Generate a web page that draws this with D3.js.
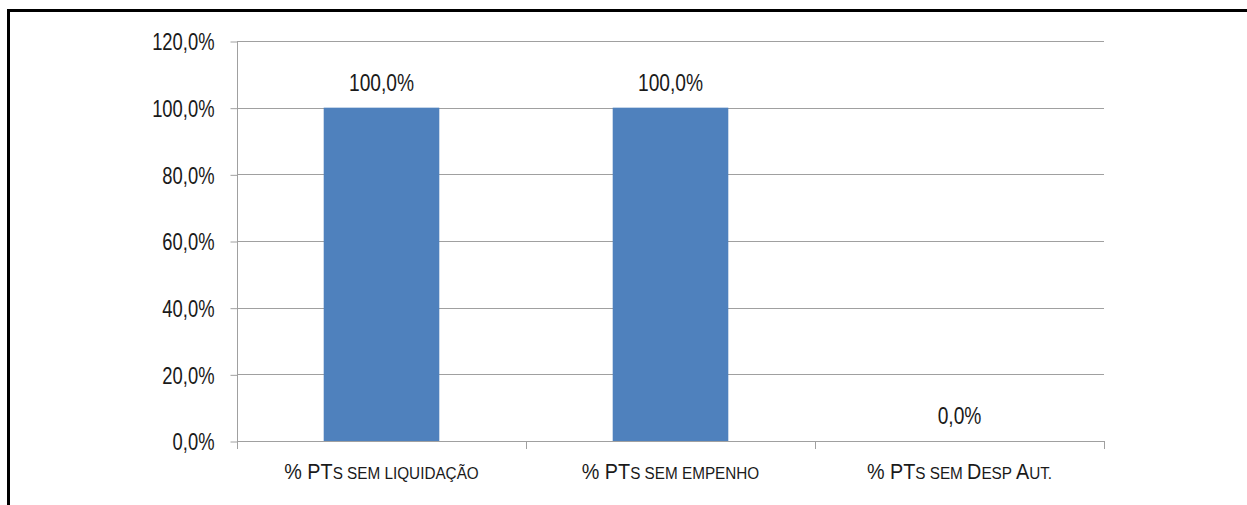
<!DOCTYPE html>
<html lang="pt">
<head>
    <meta charset="UTF-8">
    <title>PTs</title>
    <script src="https://cdn.jsdelivr.net/npm/d3@7/dist/d3.min.js"></script>
    <style>
        body { margin: 0; background: #fff; }
        text { font-family: "Liberation Sans", Arial, sans-serif; fill: #1a1a1a; }
    </style>
</head>
<body>
<div id="chart"></div>
<script>
    // category labels split into [text, isSmallCaps] pieces
    const categories = ["liq", "emp", "desp"];
    const categoryLabels = [
        [["% PT", false], ["S SEM LIQUIDAÇÃO", true]],
        [["% PT", false], ["S SEM EMPENHO", true]],
        [["% PT", false], ["S SEM ", true], ["D", false], ["ESP ", true], ["A", false], ["UT.", true]]
    ];
    const values = [1.0, 1.0, 0.0];
    const yTicks = [0, 0.2, 0.4, 0.6, 0.8, 1.0, 1.2];

    const width = 1247, height = 505;
    const NARROW = 0.8;   // no narrow font installed, squeeze glyphs instead

    const svg = d3.select("#chart").append("svg")
        .attr("width", width)
        .attr("height", height);

    // squeeze a text horizontally around its anchor point
    function squeeze(sel, fx, fy, k) {
        sel.attr("x", 0).attr("y", 0)
            .attr("transform", function (d, i) {
                return "translate(" + fx(d, i) + "," + fy(d, i) + ") scale(" + k + ",1)";
            });
    }

    // frame around the page
    svg.append("path")
        .attr("d", "M8.5,505 V10.5 H1247")
        .attr("fill", "none")
        .attr("stroke", "#000")
        .attr("stroke-width", 3);

    const plotLeft = 237, plotRight = 1104, plotTop = 41, plotBottom = 441;

    const y = d3.scaleLinear().domain([0, 1.2]).range([plotBottom, plotTop]);
    const x = d3.scaleBand().domain(categories).range([plotLeft, plotRight])
        .paddingInner(0.6).paddingOuter(0.3);
    const xCell = d3.scaleBand().domain(categories).range([plotLeft, plotRight]);

    const fmt = v => d3.format(".1f")(v * 100).replace(".", ",") + "%";

    // gridlines
    svg.append("g").selectAll("line").data(yTicks.slice(1)).enter()
        .append("line")
        .attr("x1", plotLeft).attr("x2", plotRight)
        .attr("y1", d => Math.round(y(d)) + 0.5)
        .attr("y2", d => Math.round(y(d)) + 0.5)
        .attr("stroke", "#a0a0a0");

    // y axis
    const yAxis = svg.append("g")
        .attr("transform", "translate(" + (plotLeft + 0.5) + ",0.5)")
        .call(d3.axisLeft(y).tickValues(yTicks).tickFormat(fmt).tickSize(7));
    yAxis.attr("font-family", null).attr("font-size", null);
    yAxis.select(".domain").attr("stroke", "#a0a0a0").attr("d", "M0," + plotTop + "V" + plotBottom);
    yAxis.selectAll(".tick line").attr("stroke", "#a0a0a0");
    yAxis.selectAll(".tick text")
        .attr("font-size", 23).attr("fill", "#1a1a1a").attr("dy", "0.36em")
        .call(squeeze, () => -23, () => 0, NARROW);

    // x axis line and ticks at category boundaries
    const xg = svg.append("g");
    xg.append("line")
        .attr("x1", plotLeft).attr("x2", plotRight + 1)
        .attr("y1", plotBottom + 0.5).attr("y2", plotBottom + 0.5)
        .attr("stroke", "#a0a0a0");
    const bounds = categories.map(c => xCell(c)).concat([plotRight]);
    xg.selectAll("line.tick").data(bounds).enter()
        .append("line")
        .attr("class", "tick")
        .attr("x1", d => Math.round(d) + 0.5).attr("x2", d => Math.round(d) + 0.5)
        .attr("y1", plotBottom).attr("y2", plotBottom + 8)
        .attr("stroke", "#a0a0a0");

    // bars
    svg.append("g").selectAll("rect").data(values).enter()
        .append("rect")
        .attr("x", (d, i) => x(categories[i]))
        .attr("width", x.bandwidth())
        .attr("y", d => y(d))
        .attr("height", d => plotBottom - y(d))
        .attr("fill", "#4f81bd");

    // value labels
    svg.append("g").selectAll("text").data(values).enter()
        .append("text")
        .attr("text-anchor", "middle")
        .attr("font-size", 24)
        .text(d => fmt(d))
        .call(squeeze, (d, i) => x(categories[i]) + x.bandwidth() / 2, d => y(d) - 17, NARROW);

    // category labels with small caps
    const cat = svg.append("g").selectAll("text").data(categoryLabels).enter()
        .append("text")
        .attr("text-anchor", "middle")
        .attr("font-size", 22)
        .call(squeeze, (d, i) => xCell(categories[i]) + xCell.bandwidth() / 2, () => plotBottom + 38, 0.9);
    cat.selectAll("tspan").data(d => d).enter()
        .append("tspan")
        .attr("font-size", d => d[1] ? 17 : 22)
        .text(d => d[0]);
</script>
</body>
</html>
